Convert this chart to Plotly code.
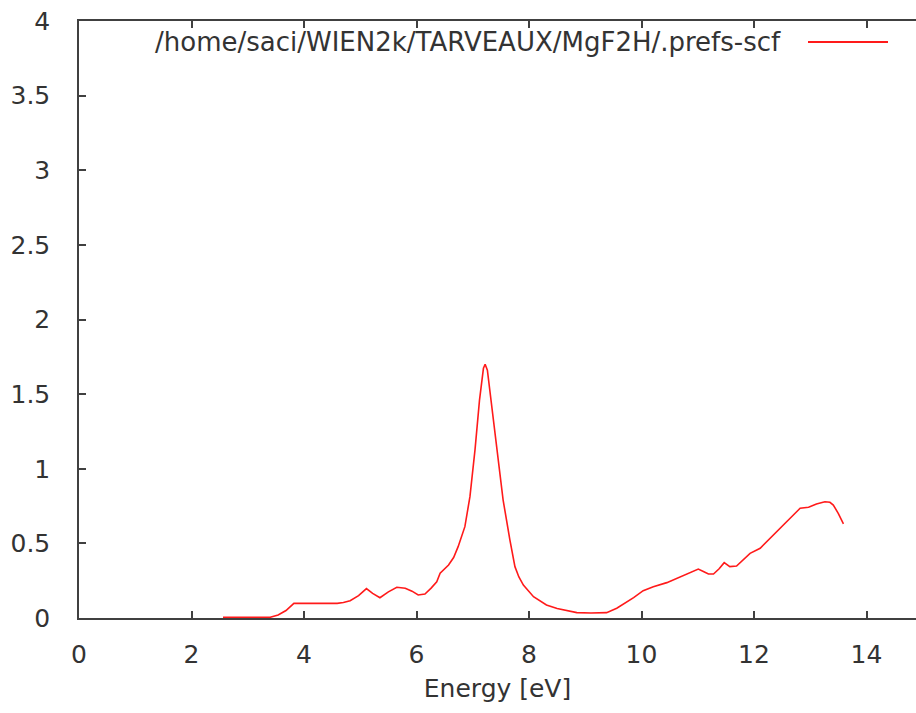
import plotly.graph_objects as go

# ---- data ----
energy = [2.56, 3.40, 3.54, 3.68, 3.82, 4.20, 4.59, 4.70, 4.82, 4.97, 5.11, 5.22, 5.35, 5.50,
          5.65, 5.80, 5.92, 6.03, 6.15, 6.26, 6.36, 6.42, 6.57, 6.66, 6.74, 6.86, 6.95, 7.04,
          7.12, 7.19, 7.22, 7.26, 7.34, 7.43, 7.54, 7.66, 7.75, 7.82, 7.90, 8.08, 8.31, 8.50,
          8.67, 8.85, 9.10, 9.38, 9.56, 9.72, 9.86, 10.03, 10.21, 10.45, 10.60, 10.74, 10.90,
          11.01, 11.10, 11.19, 11.28, 11.38, 11.47, 11.57, 11.69, 11.80, 11.93, 12.11, 12.25,
          12.40, 12.64, 12.82, 12.97, 13.11, 13.26, 13.35, 13.41, 13.50, 13.59]
value = [0.005, 0.005, 0.02, 0.05, 0.098, 0.098, 0.098, 0.104, 0.116, 0.150, 0.197, 0.165, 0.136,
         0.175, 0.206, 0.199, 0.180, 0.154, 0.161, 0.200, 0.243, 0.300, 0.355, 0.405, 0.478,
         0.612, 0.813, 1.126, 1.460, 1.673, 1.700, 1.660, 1.416, 1.126, 0.790, 0.523, 0.344,
         0.275, 0.221, 0.143, 0.087, 0.064, 0.049, 0.036, 0.033, 0.036, 0.065, 0.100, 0.136,
         0.183, 0.210, 0.237, 0.262, 0.288, 0.310, 0.328, 0.312, 0.295, 0.295, 0.330, 0.371,
         0.344, 0.348, 0.385, 0.433, 0.467, 0.520, 0.578, 0.668, 0.735, 0.742, 0.764, 0.779,
         0.775, 0.757, 0.700, 0.630]
series_name = "/home/saci/WIEN2k/TARVEAUX/MgF2H/.prefs-scf"
x_ticks = [0, 2, 4, 6, 8, 10, 12, 14]
y_ticks = [0, 0.5, 1, 1.5, 2, 2.5, 3, 3.5, 4]
y_tick_text = ["0", "0.5", "1", "1.5", "2", "2.5", "3", "3.5", "4"]
x_title = "Energy [eV]"

# ---- figure ----
W, H = 916, 713
L, R, T, B = 79, 0, 21, 95
red = "#ff1a1a"
axis_col = "#404040"
font = dict(family="DejaVu Sans", size=25, color="#333333")
key_font = dict(family="DejaVu Sans", size=26, color="#333333")

fig = go.Figure()
fig.add_trace(go.Scatter(x=energy, y=value, mode="lines", name=series_name,
                         line=dict(color=red, width=1.6), showlegend=False))

fig.update_layout(
    width=W, height=H,
    margin=dict(l=L, r=R, t=T, b=B, pad=0),
    paper_bgcolor="white", plot_bgcolor="white",
    font=font,
    xaxis=dict(range=[0, 14.88], tickvals=x_ticks, ticks="inside", ticklen=7,
               tickcolor=axis_col, tickwidth=1.5, showline=True, linecolor=axis_col,
               linewidth=1.5, mirror="ticks", showgrid=False, zeroline=False,
               ticklabelstandoff=13,
               title=dict(text=x_title, font=font, standoff=12)),
    yaxis=dict(range=[0, 4], tickvals=y_ticks, ticktext=y_tick_text, ticks="inside",
               ticklen=7, tickcolor=axis_col, tickwidth=1.5, showline=True,
               linecolor=axis_col, linewidth=1.5, mirror=False, showgrid=False,
               zeroline=False, ticklabelstandoff=22),
)

# gnuplot-style key: text then sample line
pw = W - L - R
ph = H - T - B
key_y = (H - B - 42) / ph
fig.add_annotation(text=series_name, xref="paper", yref="paper",
                   x=(783 - L) / pw, y=key_y, xanchor="right", yanchor="middle",
                   showarrow=False, font=key_font)
fig.add_shape(type="line", xref="paper", yref="paper",
              x0=(808 - L) / pw, x1=(888 - L) / pw, y0=key_y, y1=key_y,
              line=dict(color=red, width=2))

fig.write_html("out.html")
